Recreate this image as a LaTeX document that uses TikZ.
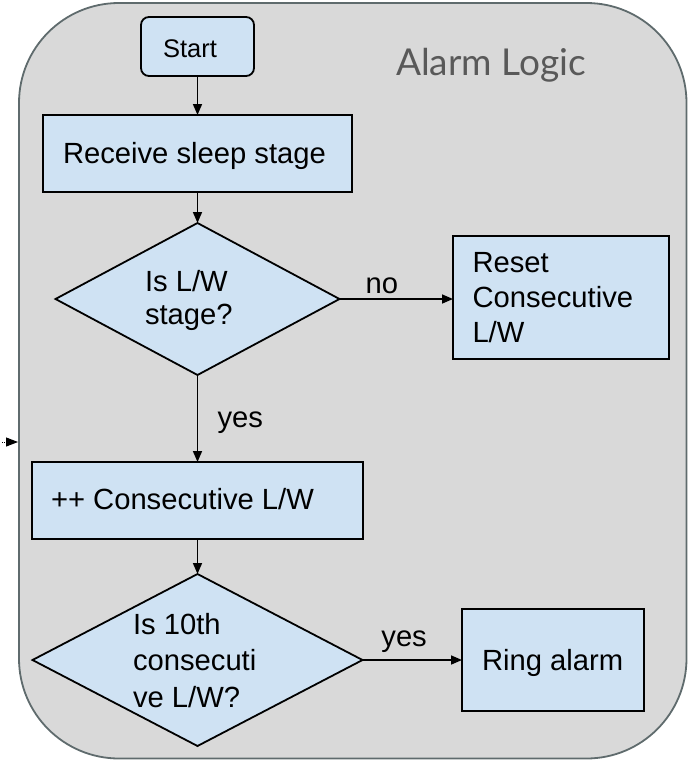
\documentclass[tikz,border=0pt]{standalone}
\usepackage{fontspec}
\setmainfont{Liberation Sans}
\newfontfamily\latofont{Lato}
\usetikzlibrary{shapes.geometric,arrows.meta}
\definecolor{boxblue}{HTML}{CFE2F3}
\definecolor{panelgray}{HTML}{D9D9D9}
\definecolor{paneledge}{HTML}{5F6B6D}
\definecolor{titlegray}{HTML}{595959}
\begin{document}
\begin{tikzpicture}[x=1pt,y=-1pt,
  panel/.style={draw=paneledge, line width=1.8pt, fill=panelgray, rounded corners=100pt},
  flowbox/.style={draw=black, line width=1.8pt, fill=boxblue, inner sep=0pt, outer sep=0pt, rectangle},
  decision/.style={draw=black, line width=1.8pt, fill=boxblue, inner sep=0pt, outer sep=0pt, diamond},
  txt/.style={inner sep=0pt, outer sep=0pt, font=\fontsize{29.2}{34}\selectfont, text=black},
  conn/.style={draw=black, line width=1.6pt, -{Triangle[length=11pt,width=9pt]}},
]
\useasboundingbox (0,0) rectangle (688,761);
\draw[panel] (19,3) rectangle (686.5,758.5);
% title
\node[inner sep=0pt, anchor=base west, font=\latofont\fontsize{37}{40}\selectfont, text=titlegray] (title) at (396,75) {Alarm Logic};
% shapes
\node[flowbox, rounded corners=8pt, minimum width=113pt, minimum height=59pt] (start) at (197.5,46.5) {};
\node[flowbox, minimum width=309pt, minimum height=77pt] (recv) at (197.5,153.5) {};
\node[decision, minimum width=284pt, minimum height=152pt] (d1) at (197.5,299) {};
\node[flowbox, minimum width=216pt, minimum height=123pt] (reset) at (561,297.5) {};
\node[flowbox, minimum width=331pt, minimum height=77pt] (inc) at (197.5,500.5) {};
\node[decision, minimum width=330pt, minimum height=172pt] (d2) at (197.5,660) {};
\node[flowbox, minimum width=182pt, minimum height=102pt] (ring) at (553,660) {};
% texts
\node[txt, anchor=base west, font=\fontsize{25.5}{30}\selectfont] (tstart) at (163,57) {Start};
\node[txt, anchor=base west] (trecv) at (63,163) {Receive sleep stage};
\node[txt, anchor=north west, align=left, font=\fontsize{29.2}{33}\selectfont] (td1) at (145,270) {Is L/W\\stage?};
\node[txt, anchor=north west, align=left, font=\fontsize{29.2}{35}\selectfont] (treset) at (472.5,252) {Reset\\Consecutive\\L/W};
\node[txt, anchor=base west] (tinc) at (51,509) {++ Consecutive L/W};
\node[txt, anchor=north west, align=left, font=\fontsize{29.2}{36.5}\selectfont] (td2) at (133,613) {Is 10th\\consecuti\\ve L/W?};
\node[txt, anchor=base west] (tring) at (482,670) {Ring alarm};
% connectors
\draw[conn] (start.south) -- (recv.north);
\draw[conn] (recv.south) -- (d1.north);
\draw[conn] (d1.east) -- (d1.east -| reset.west) node[txt, pos=0.23, anchor=base west, yshift=6pt] (lno) {no};
\draw[conn] (d1.south) -- (inc.north) node[txt, pos=0.5, anchor=base west, xshift=20pt, yshift=-8.5pt] (lyes1) {yes};
\draw[conn] (inc.south) -- (d2.north);
\draw[conn] (d2.east) -- (d2.east -| ring.west) node[txt, pos=0.19, anchor=base west, yshift=14pt] (lyes2) {yes};
% small entry arrow at left edge
\coordinate (ein) at (2,442);
\coordinate (eout) at (18,442);
\draw[line width=1pt, densely dotted, -{Triangle[length=12pt,width=9pt]}] (ein) -- (eout);
\end{tikzpicture}
\end{document}
